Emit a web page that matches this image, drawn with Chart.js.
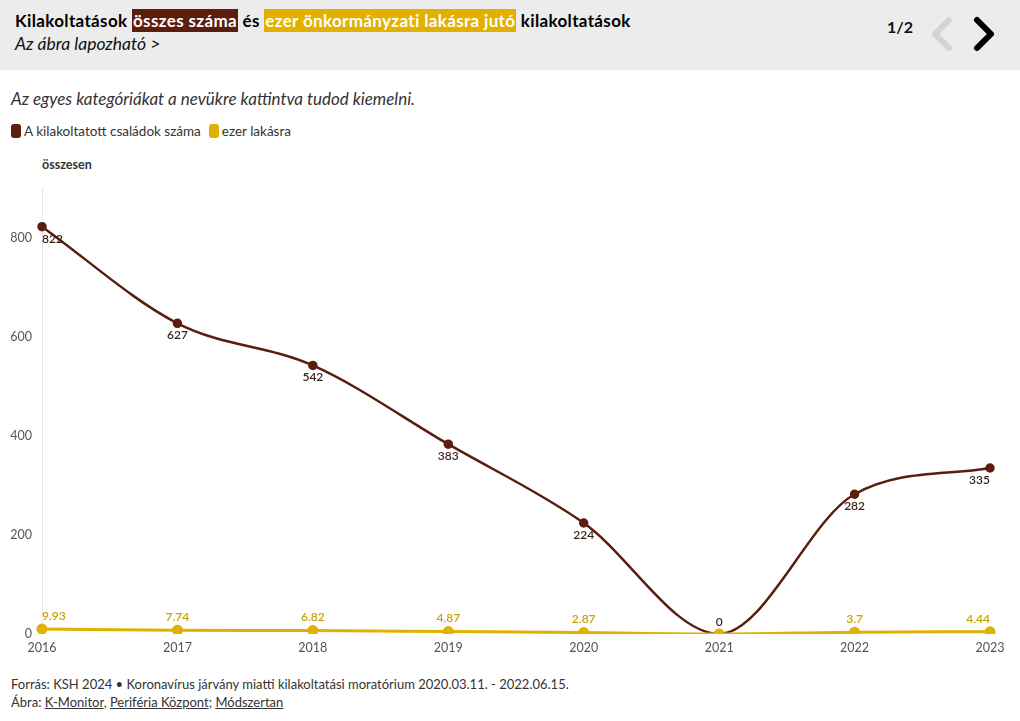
<!DOCTYPE html>
<html lang="hu">
<head>
<meta charset="utf-8">
<script src="https://cdn.jsdelivr.net/npm/chart.js@4"></script>
<style>
  html,body{margin:0;padding:0;background:#fff;}
  body{width:1020px;height:721px;position:relative;overflow:hidden;font-family:Lato,"Noto Sans",sans-serif;color:#222;}
  #head{position:absolute;left:0;top:0;width:1020px;height:70px;background:#ececec;}
  #title{position:absolute;left:15px;top:10px;font-weight:700;font-size:17px;letter-spacing:0.35px;color:#000;white-space:nowrap;line-height:22px;}
  .hb{background:#5a1d0e;color:#fff;padding:1px 1px;}
  .hy{background:#e2b100;color:#fff;padding:1px 1px;}
  #sub{position:absolute;left:15px;top:33px;font-style:italic;font-size:17.5px;color:#111;}
  #page{position:absolute;left:887px;top:17px;font-weight:700;font-size:16px;color:#111;}
  #nav{position:absolute;left:923px;top:12px;}
  #hint{position:absolute;left:11px;top:88px;font-style:italic;font-size:17px;color:#333;}
  #legend{position:absolute;left:11px;top:123px;font-size:13.5px;color:#333;display:flex;align-items:center;}
  .sw{display:inline-block;width:10px;height:14px;border-radius:3px;margin-right:3px;}
  #ytitle{position:absolute;left:42px;top:157px;font-weight:700;font-size:12.5px;color:#333;}
  #wrap{position:absolute;left:0;top:150px;width:1020px;height:515px;}
  #foot{position:absolute;left:11px;top:675px;font-size:13px;color:#333;line-height:18px;}
  #foot u{text-decoration:underline;}
</style>
</head>
<body>
<div id="head">
  <div id="title">Kilakoltatások <span class="hb">összes száma</span> és <span class="hy">ezer önkormányzati lakásra jutó</span> kilakoltatások</div>
  <div id="sub">Az ábra lapozható &gt;</div>
  <div id="page">1/2</div>
  <svg id="nav" width="80" height="44">
    <polyline points="26,8 12,22 26,36" fill="none" stroke="#d3d3d3" stroke-width="6" stroke-linecap="round" stroke-linejoin="round"/>
    <polyline points="54,8 68,22 54,36" fill="none" stroke="#000" stroke-width="6" stroke-linecap="round" stroke-linejoin="round"/>
  </svg>
</div>
<div id="hint">Az egyes kategóriákat a nevükre kattintva tudod kiemelni.</div>
<div id="legend"><span class="sw" style="background:#5a1d0e"></span>A kilakoltatott családok száma<span style="width:8px;display:inline-block"></span><span class="sw" style="background:#e2b100"></span>ezer lakásra</div>
<div id="ytitle">összesen</div>
<div id="wrap"><canvas id="c" width="1020" height="515"></canvas></div>
<div id="foot">Forrás: KSH 2024 • Koronavírus járvány miatti kilakoltatási moratórium 2020.03.11. - 2022.06.15.<br>Ábra: <u>K-Monitor</u>, <u>Periféria Központ</u>; <u>Módszertan</u></div>
<script>
const years = ["2016","2017","2018","2019","2020","2021","2022","2023"];
const families = [822, 627, 542, 383, 224, 0, 282, 335];
const perThousand = [9.93, 7.74, 6.82, 4.87, 2.87, 0, 3.7, 4.44];
const familiesLabels = ["822","627","542","383","224","0","282","335"];
const perThousandLabels = ["9.93","7.74","6.82","4.87","2.87","","3.7","4.44"];
const yTicks = [0, 200, 400, 600, 800];

const BROWN = "#5a1d0e";
const YELLOW = "#e2b100";

const labelPlugin = {
  id: "valueLabels",
  afterDatasetsDraw(chart) {
    const ctx = chart.ctx;
    const area = chart.chartArea;
    ctx.save();
    ctx.font = "600 12px Lato, 'Noto Sans', sans-serif";
    ctx.textBaseline = "middle";
    ctx.textAlign = "center";
    chart.data.datasets.forEach((ds, di) => {
      const meta = chart.getDatasetMeta(di);
      meta.data.forEach((pt, i) => {
        const txt = ds.labelsText[i];
        if (!txt) return;
        let y;
        let color = ds.labelColor;
        if (di === 0) {
          if (ds.data[i] === 0) { y = pt.y - 12; color = "#333"; }
          else y = pt.y + 12;
        } else {
          y = pt.y - 13;
        }
        const w = ctx.measureText(txt).width;
        let x = pt.x;
        x = Math.max(area.left + w / 2, Math.min(area.right - w / 2, x));
        ctx.fillStyle = color;
        ctx.fillText(txt, x, y);
      });
    });
    ctx.restore();
  }
};

new Chart(document.getElementById("c"), {
  type: "line",
  data: {
    labels: years,
    datasets: [
      {
        label: "A kilakoltatott családok száma",
        data: families,
        labelsText: familiesLabels,
        labelColor: "#3b1f17",
        borderColor: BROWN,
        backgroundColor: BROWN,
        borderWidth: 2.5,
        pointRadius: 3.5,
        pointHoverRadius: 4,
        cubicInterpolationMode: "monotone",
        order: 2
      },
      {
        label: "ezer lakásra",
        data: perThousand,
        labelsText: perThousandLabels,
        labelColor: "#c9a100",
        borderColor: YELLOW,
        backgroundColor: YELLOW,
        borderWidth: 3,
        pointRadius: 4,
        pointHoverRadius: 4,
        cubicInterpolationMode: "monotone",
        order: 1
      }
    ]
  },
  options: {
    responsive: false,
    animation: false,
    layout: { padding: { top: 38, right: 30, left: 0, bottom: 0 } },
    plugins: { legend: { display: false }, tooltip: { enabled: false } },
    scales: {
      x: {
        grid: { display: false, drawTicks: false },
        border: { display: false },
        offset: false,
        ticks: { color: "#555", font: { family: "Lato, 'Noto Sans', sans-serif", size: 12.5 }, padding: 6, maxRotation: 0 },
        afterFit(s) { s.height = 31; }
      },
      y: {
        min: 0, max: 900,
        grid: { display: false, drawTicks: false },
        border: { display: true, color: "#e6e6e6", width: 1 },
        afterBuildTicks(s) { s.ticks = yTicks.map(v => ({ value: v })); },
        ticks: { color: "#555", font: { family: "Lato, 'Noto Sans', sans-serif", size: 12.5 }, padding: 10 },
        afterFit(s) { s.width = 42; }
      }
    }
  },
  plugins: [labelPlugin]
});
</script>
</body>
</html>
